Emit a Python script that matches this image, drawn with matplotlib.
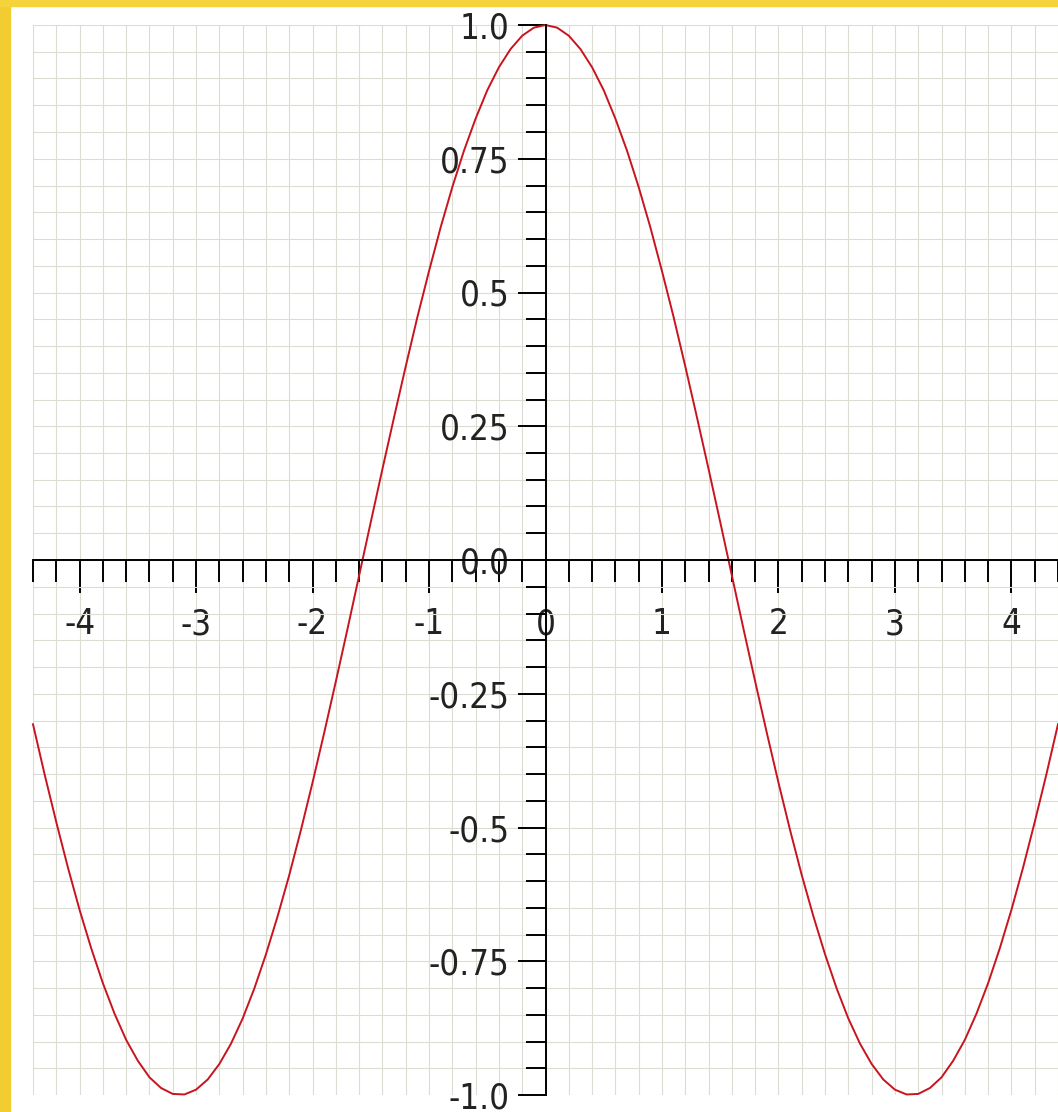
import numpy as np
import matplotlib
matplotlib.use("Agg")
import matplotlib.pyplot as plt
from matplotlib import font_manager
from matplotlib.ticker import FixedLocator, FixedFormatter, MultipleLocator
from matplotlib.patches import Rectangle

# points, every 0.1 along x
x_vals = [-4.4, -4.3, -4.2, -4.1, -4.0, -3.9, -3.8, -3.7, -3.6, -3.5,
          -3.4, -3.3, -3.2, -3.1, -3.0, -2.9, -2.8, -2.7, -2.6, -2.5,
          -2.4, -2.3, -2.2, -2.1, -2.0, -1.9, -1.8, -1.7, -1.6, -1.5,
          -1.4, -1.3, -1.2, -1.1, -1.0, -0.9, -0.8, -0.7, -0.6, -0.5,
          -0.4, -0.3, -0.2, -0.1, 0.0, 0.1, 0.2, 0.3, 0.4, 0.5,
          0.6, 0.7, 0.8, 0.9, 1.0, 1.1, 1.2, 1.3, 1.4, 1.5,
          1.6, 1.7, 1.8, 1.9, 2.0, 2.1, 2.2, 2.3, 2.4, 2.5,
          2.6, 2.7, 2.8, 2.9, 3.0, 3.1, 3.2, 3.3, 3.4, 3.5,
          3.6, 3.7, 3.8, 3.9, 4.0, 4.1, 4.2, 4.3, 4.4]
y_vals = [-0.307, -0.401, -0.490, -0.575, -0.654, -0.726, -0.791, -0.848, -0.897, -0.936,
          -0.967, -0.987, -0.998, -0.999, -0.990, -0.971, -0.942, -0.904, -0.857, -0.801,
          -0.737, -0.666, -0.589, -0.505, -0.416, -0.323, -0.227, -0.129, -0.029, 0.071,
          0.170, 0.267, 0.362, 0.454, 0.540, 0.622, 0.697, 0.765, 0.825, 0.878,
          0.921, 0.955, 0.980, 0.995, 1.000, 0.995, 0.980, 0.955, 0.921, 0.878,
          0.825, 0.765, 0.697, 0.622, 0.540, 0.454, 0.362, 0.267, 0.170, 0.071,
          -0.029, -0.129, -0.227, -0.323, -0.416, -0.505, -0.589, -0.666, -0.737, -0.801,
          -0.857, -0.904, -0.942, -0.971, -0.990, -0.999, -0.998, -0.987, -0.967, -0.936,
          -0.897, -0.848, -0.791, -0.726, -0.654, -0.575, -0.490, -0.401, -0.307]

x_ticks = [-4, -3, -2, -1, 0, 1, 2, 3, 4]
x_tick_labels = ['-4', '-3', '-2', '-1', '0', '1', '2', '3', '4']
y_ticks = [-1.0, -0.75, -0.5, -0.25, 0.0, 0.25, 0.5, 0.75, 1.0]
y_tick_labels = ['-1.0', '-0.75', '-0.5', '-0.25', '0.0', '0.25', '0.5', '0.75', '1.0']

# narrow font for tick labels if one is around
names = set(f.name for f in font_manager.fontManager.ttflist)
condensed = [f for f in font_manager.fontManager.ttflist
             if f.name == 'DejaVu Sans' and 'ondensed' in f.fname and 'Bold' not in f.fname
             and 'Oblique' not in f.fname]
if 'Liberation Sans Narrow' in names:
    tick_font = font_manager.FontProperties(family='Liberation Sans Narrow', size=25)
elif condensed:
    tick_font = font_manager.FontProperties(fname=condensed[0].fname, size=25)
else:
    tick_font = font_manager.FontProperties(family='Liberation Sans', size=25)

W, H = 1058, 1112
fig = plt.figure(figsize=(W / 100, H / 100), dpi=100)
fig.patch.set_facecolor('white')

# yellow frame on left and top
fig.patches.append(Rectangle((0, 0), 10 / W, 1, transform=fig.transFigure,
                             color='#F2CD32', zorder=0))
fig.patches.append(Rectangle((0, 1 - 6 / H), 1, 6 / H, transform=fig.transFigure,
                             color='#F4D43A', zorder=0))

ax = fig.add_axes([33 / W, 17 / H, (W - 33) / W, (1095 - 25) / H])
ax.set_facecolor('white')

ax.plot(x_vals, y_vals, color='#c8141e', lw=1.4, clip_on=False, zorder=3)

ax.set_xlim(-4.4, 4.4)
ax.set_ylim(-1, 1)

for side in ['top', 'right']:
    ax.spines[side].set_visible(False)
ax.spines['left'].set_position('zero')
ax.spines['bottom'].set_position('zero')
for side in ['left', 'bottom']:
    ax.spines[side].set_linewidth(1.4)
    ax.spines[side].set_color('black')
    ax.spines[side].set_zorder(4)

ax.xaxis.set_major_locator(FixedLocator(x_ticks))
ax.xaxis.set_major_formatter(FixedFormatter(x_tick_labels))
ax.xaxis.set_minor_locator(MultipleLocator(0.2))
ax.yaxis.set_major_locator(FixedLocator(y_ticks))
ax.yaxis.set_major_formatter(FixedFormatter(y_tick_labels))
ax.yaxis.set_minor_locator(MultipleLocator(0.05))

ax.tick_params(axis='x', which='major', direction='out', length=24, width=1.4, pad=10)
ax.tick_params(axis='x', which='minor', direction='out', length=16, width=1.4)
ax.tick_params(axis='y', which='major', direction='out', length=20, width=1.4, pad=6)
ax.tick_params(axis='y', which='minor', direction='out', length=14.5, width=1.4)
for lab in ax.get_xticklabels() + ax.get_yticklabels():
    lab.set_fontproperties(tick_font)
    lab.set_color('#222222')

ax.grid(which='both', color='#dcdcd2', lw=0.8, zorder=0)
ax.set_axisbelow(True)

fig.savefig('out.png', dpi=100, facecolor='white')
